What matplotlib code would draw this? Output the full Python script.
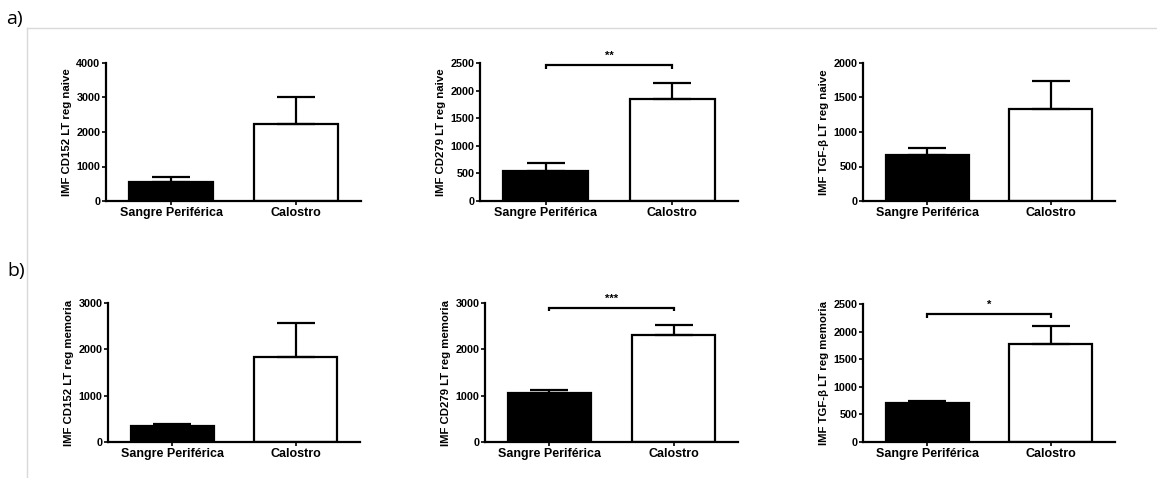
import matplotlib
matplotlib.use("Agg")
import matplotlib.pyplot as plt
from matplotlib.lines import Line2D

plt.rcParams['font.family'] = ['Liberation Sans', 'DejaVu Sans']

categories = ["Sangre Periférica", "Calostro"]

ylabels = ["IMF CD152 LT reg naive", "IMF CD279 LT reg naive", "IMF TGF-β LT reg naive",
           "IMF CD152 LT reg memoria", "IMF CD279 LT reg memoria", "IMF TGF-β LT reg memoria"]

means = [[540, 2230], [540, 1840], [660, 1340],
         [345, 1840], [1050, 2310], [700, 1770]]
sems = [[145, 770], [145, 300], [115, 400],
        [45, 730], [65, 210], [40, 330]]

ymax = [4000, 2500, 2000, 3000, 3000, 2500]
ystep = [1000, 500, 500, 1000, 1000, 500]

# significance: (panel index, bracket height, tick end height, label)
sig_panels = [1, 4, 5]
sig_heights = [2470, 2890, 2310]
sig_drops = [2400, 2830, 2240]
sig_labels = ["**", "***", "*"]

W, H = 1157, 478
fig = plt.figure(figsize=(W / 100, H / 100), dpi=100)

# axes boxes in pixels: left, right, y of zero, y of top tick
boxes = [(106, 361, 201, 63), (480, 738, 201, 63), (863, 1115, 201, 63),
         (108, 360, 442, 303), (485, 738, 442, 303), (863, 1115, 442, 304)]

axes = []
for i, (l, r, y0, yt) in enumerate(boxes):
    ax = fig.add_axes([l / W, 1 - y0 / H, (r - l) / W, (y0 - yt) / H])
    axes.append(ax)
    x = [0, 1]
    ax.bar(x, means[i], width=0.67, color=['black', 'white'],
           edgecolor='black', linewidth=1.6, zorder=2)
    ax.errorbar(x, means[i], yerr=[[0, 0], sems[i]], fmt='none', ecolor='black',
                elinewidth=1.6, capsize=13.5, capthick=1.6, zorder=3)
    ax.set_xlim(-0.52, 1.52)
    ax.set_ylim(0, ymax[i])
    ax.set_yticks(list(range(0, ymax[i] + 1, ystep[i])))
    ax.set_xticks(x)
    ax.set_xticklabels(categories, fontsize=9, fontweight='bold')
    for lab in ax.get_yticklabels():
        lab.set_fontweight('bold')
        lab.set_fontsize(7.8)
    ax.tick_params(axis='y', length=3, width=1.2, pad=1)
    ax.tick_params(axis='x', length=3, width=1.2, pad=1.5)
    for s in ['top', 'right']:
        ax.spines[s].set_visible(False)
    for s in ['left', 'bottom']:
        ax.spines[s].set_linewidth(1.6)
    ax.set_ylabel(ylabels[i], fontsize=8.2, fontweight='bold', labelpad=3)
    ax.patch.set_alpha(0)

for k, idx in enumerate(sig_panels):
    ax = axes[idx]
    h = sig_heights[k]
    d = sig_drops[k]
    ax.plot([0, 0, 1, 1], [d, h, h, d], color='black', lw=1.6, clip_on=False,
            solid_capstyle='butt', solid_joinstyle='miter')
    ax.annotate(sig_labels[k], xy=(0.5, h), xytext=(0, 3), textcoords='offset points',
                ha='center', va='bottom', fontsize=8, fontweight='bold', annotation_clip=False)

# light frame lines
fig.add_artist(Line2D([27 / W, 1], [1 - 28 / H, 1 - 28 / H], transform=fig.transFigure,
                      color='#d9d9d9', lw=1))
fig.add_artist(Line2D([27 / W, 27 / W], [1 - 28 / H, 0], transform=fig.transFigure,
                      color='#d9d9d9', lw=1))

fig.text(6 / W, 1 - 24 / H, "a)", fontsize=14, family=['Open Sans', 'DejaVu Sans'],
         va='baseline', ha='left')
fig.text(7 / W, 1 - 276 / H, "b)", fontsize=14, family=['Open Sans', 'DejaVu Sans'],
         va='baseline', ha='left')

fig.savefig("out.png", dpi=100)
